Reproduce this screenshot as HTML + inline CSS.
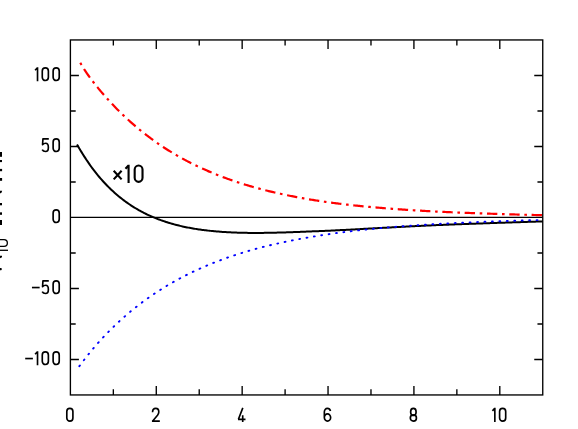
<!DOCTYPE html>
<html><head><meta charset="utf-8"><title>chart</title>
<style>html,body{margin:0;padding:0;background:#fff;font-family:"Liberation Sans",sans-serif;}
svg{display:block}</style></head>
<body>
<svg width="578" height="429" viewBox="0 0 578 429">
<rect x="0" y="0" width="578" height="429" fill="#fff"/>
<clipPath id="c"><rect x="70.4" y="39.95" width="472.35" height="355.0"/></clipPath>
<g clip-path="url(#c)" fill="none">
<line x1="70.4" y1="217.45" x2="542.75" y2="217.45" stroke="#000" stroke-width="1.2"/>
<path d="M77.00,144.51 L78.17,146.53 L79.34,148.51 L80.52,150.45 L81.69,152.37 L82.86,154.25 L84.03,156.09 L85.20,157.90 L86.37,159.68 L87.55,161.43 L88.72,163.14 L89.89,164.82 L91.06,166.46 L92.23,168.07 L93.41,169.64 L94.58,171.18 L95.75,172.69 L96.92,174.16 L98.09,175.59 L99.26,176.99 L100.44,178.36 L101.61,179.69 L102.78,181.00 L103.95,182.28 L105.12,183.53 L106.29,184.76 L107.47,185.97 L108.64,187.14 L109.81,188.30 L110.98,189.42 L112.15,190.53 L113.33,191.61 L114.50,192.67 L115.67,193.71 L116.84,194.72 L118.01,195.71 L119.18,196.68 L120.36,197.64 L121.53,198.57 L122.70,199.48 L123.87,200.37 L125.04,201.24 L126.22,202.09 L127.39,202.92 L128.56,203.74 L129.73,204.53 L130.90,205.31 L132.07,206.07 L133.25,206.82 L134.42,207.55 L135.59,208.26 L136.76,208.96 L137.93,209.64 L139.10,210.30 L140.28,210.95 L141.45,211.58 L142.62,212.20 L143.79,212.81 L144.96,213.40 L146.14,213.98 L147.31,214.54 L148.48,215.09 L149.65,215.63 L150.82,216.16 L151.99,216.67 L153.17,217.17 L154.34,217.66 L155.51,218.14 L156.68,218.60 L157.85,219.06 L159.03,219.50 L160.20,219.93 L161.37,220.36 L162.54,220.77 L163.71,221.17 L164.88,221.57 L166.06,221.95 L167.23,222.32 L168.40,222.69 L169.57,223.04 L170.74,223.39 L171.92,223.73 L173.09,224.06 L174.26,224.38 L175.43,224.69 L176.60,225.00 L177.77,225.30 L178.95,225.58 L180.12,225.87 L181.29,226.14 L182.46,226.40 L183.63,226.66 L184.80,226.92 L185.98,227.16 L187.15,227.40 L188.32,227.63 L189.49,227.85 L190.66,228.07 L191.84,228.28 L193.01,228.48 L194.18,228.68 L195.35,228.87 L196.52,229.06 L197.69,229.24 L198.87,229.41 L200.04,229.58 L201.21,229.74 L202.38,229.90 L203.55,230.05 L204.73,230.20 L205.90,230.34 L207.07,230.48 L208.24,230.62 L209.41,230.74 L210.58,230.87 L211.76,230.99 L212.93,231.10 L214.10,231.22 L215.27,231.32 L216.44,231.43 L217.62,231.52 L218.79,231.62 L219.96,231.71 L221.13,231.80 L222.30,231.88 L223.47,231.96 L224.65,232.04 L225.82,232.11 L226.99,232.18 L228.16,232.25 L229.33,232.31 L230.50,232.37 L231.68,232.42 L232.85,232.47 L234.02,232.52 L235.19,232.57 L236.36,232.61 L237.54,232.65 L238.71,232.69 L239.88,232.73 L241.05,232.76 L242.22,232.79 L243.39,232.81 L244.57,232.84 L245.74,232.86 L246.91,232.87 L248.08,232.89 L249.25,232.90 L250.43,232.91 L251.60,232.92 L252.77,232.92 L253.94,232.93 L255.11,232.93 L256.28,232.93 L257.46,232.92 L258.63,232.92 L259.80,232.91 L260.97,232.90 L262.14,232.89 L263.31,232.88 L264.49,232.86 L265.66,232.85 L266.83,232.83 L268.00,232.81 L269.17,232.79 L270.35,232.77 L271.52,232.75 L272.69,232.72 L273.86,232.70 L275.03,232.67 L276.20,232.64 L277.38,232.62 L278.55,232.59 L279.72,232.55 L280.89,232.52 L282.06,232.49 L283.24,232.45 L284.41,232.42 L285.58,232.38 L286.75,232.34 L287.92,232.31 L289.09,232.27 L290.27,232.23 L291.44,232.19 L292.61,232.14 L293.78,232.10 L294.95,232.06 L296.13,232.01 L297.30,231.97 L298.47,231.92 L299.64,231.88 L300.81,231.83 L301.98,231.78 L303.16,231.74 L304.33,231.69 L305.50,231.64 L306.67,231.60 L307.84,231.55 L309.01,231.50 L310.19,231.46 L311.36,231.41 L312.53,231.36 L313.70,231.32 L314.87,231.27 L316.05,231.22 L317.22,231.17 L318.39,231.13 L319.56,231.08 L320.73,231.03 L321.90,230.98 L323.08,230.93 L324.25,230.88 L325.42,230.83 L326.59,230.78 L327.76,230.73 L328.94,230.68 L330.11,230.63 L331.28,230.57 L332.45,230.52 L333.62,230.47 L334.79,230.41 L335.97,230.35 L337.14,230.30 L338.31,230.24 L339.48,230.18 L340.65,230.12 L341.82,230.07 L343.00,230.01 L344.17,229.94 L345.34,229.88 L346.51,229.82 L347.68,229.76 L348.86,229.70 L350.03,229.64 L351.20,229.57 L352.37,229.51 L353.54,229.45 L354.71,229.38 L355.89,229.32 L357.06,229.25 L358.23,229.19 L359.40,229.13 L360.57,229.06 L361.75,229.00 L362.92,228.93 L364.09,228.87 L365.26,228.80 L366.43,228.73 L367.60,228.67 L368.78,228.60 L369.95,228.54 L371.12,228.47 L372.29,228.41 L373.46,228.34 L374.64,228.28 L375.81,228.21 L376.98,228.15 L378.15,228.08 L379.32,228.02 L380.49,227.96 L381.67,227.89 L382.84,227.83 L384.01,227.76 L385.18,227.70 L386.35,227.64 L387.52,227.57 L388.70,227.51 L389.87,227.45 L391.04,227.39 L392.21,227.33 L393.38,227.27 L394.56,227.20 L395.73,227.14 L396.90,227.08 L398.07,227.02 L399.24,226.96 L400.41,226.89 L401.59,226.83 L402.76,226.77 L403.93,226.71 L405.10,226.65 L406.27,226.59 L407.45,226.53 L408.62,226.47 L409.79,226.41 L410.96,226.35 L412.13,226.29 L413.30,226.23 L414.48,226.17 L415.65,226.11 L416.82,226.05 L417.99,225.99 L419.16,225.93 L420.34,225.88 L421.51,225.82 L422.68,225.76 L423.85,225.71 L425.02,225.65 L426.19,225.60 L427.37,225.54 L428.54,225.49 L429.71,225.43 L430.88,225.38 L432.05,225.33 L433.22,225.27 L434.40,225.22 L435.57,225.17 L436.74,225.12 L437.91,225.07 L439.08,225.02 L440.26,224.97 L441.43,224.92 L442.60,224.88 L443.77,224.83 L444.94,224.78 L446.11,224.73 L447.29,224.69 L448.46,224.64 L449.63,224.59 L450.80,224.55 L451.97,224.50 L453.15,224.46 L454.32,224.41 L455.49,224.36 L456.66,224.32 L457.83,224.27 L459.00,224.23 L460.18,224.19 L461.35,224.14 L462.52,224.10 L463.69,224.05 L464.86,224.01 L466.03,223.97 L467.21,223.92 L468.38,223.88 L469.55,223.84 L470.72,223.80 L471.89,223.75 L473.07,223.71 L474.24,223.67 L475.41,223.63 L476.58,223.59 L477.75,223.55 L478.92,223.51 L480.10,223.47 L481.27,223.42 L482.44,223.38 L483.61,223.34 L484.78,223.30 L485.96,223.26 L487.13,223.22 L488.30,223.18 L489.47,223.14 L490.64,223.10 L491.81,223.06 L492.99,223.02 L494.16,222.98 L495.33,222.94 L496.50,222.91 L497.67,222.87 L498.85,222.83 L500.02,222.79 L501.19,222.75 L502.36,222.71 L503.53,222.67 L504.70,222.63 L505.88,222.59 L507.05,222.55 L508.22,222.51 L509.39,222.48 L510.56,222.44 L511.73,222.40 L512.91,222.36 L514.08,222.32 L515.25,222.28 L516.42,222.25 L517.59,222.21 L518.77,222.17 L519.94,222.13 L521.11,222.10 L522.28,222.06 L523.45,222.02 L524.62,221.98 L525.80,221.95 L526.97,221.91 L528.14,221.87 L529.31,221.84 L530.48,221.80 L531.66,221.76 L532.83,221.73 L534.00,221.69 L535.17,221.66 L536.34,221.62 L537.51,221.58 L538.69,221.55 L539.86,221.51 L541.03,221.48 L542.20,221.44 L543.37,221.41 L544.55,221.37" stroke="#000" stroke-width="2.0"/>
<path d="M80.10,62.37 L81.26,64.45 L82.43,66.43 L83.59,68.32 L84.76,70.14 L85.92,71.89 L87.08,73.59 L88.25,75.25 L89.41,76.87 L90.58,78.46 L91.74,80.01 L92.90,81.54 L94.07,83.04 L95.23,84.52 L96.40,85.98 L97.56,87.41 L98.72,88.83 L99.89,90.23 L101.05,91.62 L102.22,92.98 L103.38,94.33 L104.54,95.67 L105.71,96.99 L106.87,98.29 L108.04,99.58 L109.20,100.86 L110.36,102.12 L111.53,103.37 L112.69,104.60 L113.86,105.82 L115.02,107.03 L116.18,108.22 L117.35,109.40 L118.51,110.57 L119.68,111.72 L120.84,112.87 L122.00,114.00 L123.17,115.11 L124.33,116.22 L125.50,117.31 L126.66,118.40 L127.82,119.47 L128.99,120.52 L130.15,121.57 L131.32,122.61 L132.48,123.63 L133.65,124.65 L134.81,125.65 L135.97,126.64 L137.14,127.62 L138.30,128.59 L139.47,129.55 L140.63,130.50 L141.79,131.44 L142.96,132.37 L144.12,133.29 L145.29,134.20 L146.45,135.10 L147.61,135.98 L148.78,136.86 L149.94,137.73 L151.11,138.60 L152.27,139.45 L153.43,140.29 L154.60,141.12 L155.76,141.95 L156.93,142.76 L158.09,143.57 L159.25,144.37 L160.42,145.16 L161.58,145.94 L162.75,146.71 L163.91,147.47 L165.07,148.23 L166.24,148.98 L167.40,149.71 L168.57,150.45 L169.73,151.17 L170.89,151.88 L172.06,152.59 L173.22,153.29 L174.39,153.99 L175.55,154.67 L176.71,155.35 L177.88,156.02 L179.04,156.68 L180.21,157.34 L181.37,157.99 L182.53,158.63 L183.70,159.26 L184.86,159.89 L186.03,160.51 L187.19,161.13 L188.35,161.73 L189.52,162.33 L190.68,162.93 L191.85,163.52 L193.01,164.10 L194.17,164.68 L195.34,165.24 L196.50,165.81 L197.67,166.37 L198.83,166.92 L199.99,167.46 L201.16,168.00 L202.32,168.53 L203.49,169.06 L204.65,169.58 L205.81,170.10 L206.98,170.61 L208.14,171.12 L209.31,171.62 L210.47,172.11 L211.63,172.60 L212.80,173.08 L213.96,173.56 L215.13,174.03 L216.29,174.50 L217.45,174.97 L218.62,175.42 L219.78,175.88 L220.95,176.32 L222.11,176.77 L223.27,177.21 L224.44,177.64 L225.60,178.07 L226.77,178.49 L227.93,178.91 L229.09,179.33 L230.26,179.74 L231.42,180.15 L232.59,180.55 L233.75,180.95 L234.91,181.34 L236.08,181.73 L237.24,182.11 L238.41,182.49 L239.57,182.87 L240.74,183.24 L241.90,183.61 L243.06,183.98 L244.23,184.34 L245.39,184.69 L246.56,185.05 L247.72,185.40 L248.88,185.74 L250.05,186.08 L251.21,186.42 L252.38,186.75 L253.54,187.08 L254.70,187.41 L255.87,187.73 L257.03,188.05 L258.20,188.37 L259.36,188.68 L260.52,188.99 L261.69,189.30 L262.85,189.60 L264.02,189.90 L265.18,190.20 L266.34,190.49 L267.51,190.78 L268.67,191.07 L269.84,191.35 L271.00,191.63 L272.16,191.91 L273.33,192.19 L274.49,192.46 L275.66,192.73 L276.82,192.99 L277.98,193.26 L279.15,193.52 L280.31,193.77 L281.48,194.03 L282.64,194.28 L283.80,194.53 L284.97,194.77 L286.13,195.02 L287.30,195.26 L288.46,195.50 L289.62,195.73 L290.79,195.97 L291.95,196.20 L293.12,196.43 L294.28,196.65 L295.44,196.88 L296.61,197.10 L297.77,197.32 L298.94,197.53 L300.10,197.75 L301.26,197.96 L302.43,198.17 L303.59,198.37 L304.76,198.58 L305.92,198.78 L307.08,198.98 L308.25,199.18 L309.41,199.38 L310.58,199.57 L311.74,199.76 L312.90,199.95 L314.07,200.14 L315.23,200.32 L316.40,200.51 L317.56,200.69 L318.72,200.87 L319.89,201.04 L321.05,201.22 L322.22,201.39 L323.38,201.56 L324.54,201.73 L325.71,201.90 L326.87,202.06 L328.04,202.22 L329.20,202.39 L330.36,202.54 L331.53,202.70 L332.69,202.86 L333.86,203.01 L335.02,203.16 L336.18,203.31 L337.35,203.46 L338.51,203.60 L339.68,203.75 L340.84,203.89 L342.01,204.03 L343.17,204.17 L344.33,204.30 L345.50,204.44 L346.66,204.57 L347.83,204.71 L348.99,204.84 L350.15,204.97 L351.32,205.09 L352.48,205.22 L353.65,205.35 L354.81,205.47 L355.97,205.59 L357.14,205.71 L358.30,205.83 L359.47,205.95 L360.63,206.07 L361.79,206.18 L362.96,206.30 L364.12,206.41 L365.29,206.52 L366.45,206.63 L367.61,206.74 L368.78,206.85 L369.94,206.95 L371.11,207.06 L372.27,207.16 L373.43,207.27 L374.60,207.37 L375.76,207.47 L376.93,207.57 L378.09,207.67 L379.25,207.77 L380.42,207.86 L381.58,207.96 L382.75,208.06 L383.91,208.15 L385.07,208.24 L386.24,208.34 L387.40,208.43 L388.57,208.52 L389.73,208.61 L390.89,208.70 L392.06,208.78 L393.22,208.87 L394.39,208.96 L395.55,209.04 L396.71,209.13 L397.88,209.21 L399.04,209.29 L400.21,209.38 L401.37,209.46 L402.53,209.54 L403.70,209.62 L404.86,209.70 L406.03,209.78 L407.19,209.86 L408.35,209.93 L409.52,210.01 L410.68,210.08 L411.85,210.16 L413.01,210.23 L414.17,210.30 L415.34,210.37 L416.50,210.45 L417.67,210.52 L418.83,210.58 L419.99,210.65 L421.16,210.72 L422.32,210.79 L423.49,210.86 L424.65,210.92 L425.81,210.99 L426.98,211.05 L428.14,211.11 L429.31,211.18 L430.47,211.24 L431.63,211.30 L432.80,211.36 L433.96,211.42 L435.13,211.48 L436.29,211.54 L437.45,211.60 L438.62,211.66 L439.78,211.71 L440.95,211.77 L442.11,211.83 L443.28,211.88 L444.44,211.94 L445.60,211.99 L446.77,212.05 L447.93,212.10 L449.10,212.15 L450.26,212.20 L451.42,212.25 L452.59,212.30 L453.75,212.36 L454.92,212.40 L456.08,212.45 L457.24,212.50 L458.41,212.55 L459.57,212.60 L460.74,212.65 L461.90,212.69 L463.06,212.74 L464.23,212.78 L465.39,212.83 L466.56,212.87 L467.72,212.92 L468.88,212.96 L470.05,213.01 L471.21,213.05 L472.38,213.09 L473.54,213.13 L474.70,213.18 L475.87,213.22 L477.03,213.26 L478.20,213.30 L479.36,213.34 L480.52,213.38 L481.69,213.42 L482.85,213.46 L484.02,213.50 L485.18,213.53 L486.34,213.57 L487.51,213.61 L488.67,213.65 L489.84,213.69 L491.00,213.73 L492.16,213.76 L493.33,213.80 L494.49,213.84 L495.66,213.88 L496.82,213.91 L497.98,213.95 L499.15,213.99 L500.31,214.02 L501.48,214.06 L502.64,214.09 L503.80,214.13 L504.97,214.17 L506.13,214.20 L507.30,214.24 L508.46,214.27 L509.62,214.31 L510.79,214.34 L511.95,214.38 L513.12,214.41 L514.28,214.44 L515.44,214.48 L516.61,214.51 L517.77,214.54 L518.94,214.58 L520.10,214.61 L521.26,214.64 L522.43,214.68 L523.59,214.71 L524.76,214.74 L525.92,214.77 L527.08,214.80 L528.25,214.84 L529.41,214.87 L530.58,214.90 L531.74,214.93 L532.90,214.96 L534.07,214.99 L535.23,215.02 L536.40,215.05 L537.56,215.08 L538.72,215.11 L539.89,215.14 L541.05,215.17 L542.22,215.20 L543.38,215.23 L544.55,215.26" stroke="#f00" stroke-width="2.2" stroke-dasharray="2.6 4.68 10.38 4.67" stroke-dashoffset="-0.4"/>
<path d="M78.80,366.95 L79.97,365.35 L81.13,363.78 L82.30,362.22 L83.47,360.68 L84.64,359.16 L85.80,357.66 L86.97,356.18 L88.14,354.72 L89.31,353.27 L90.47,351.84 L91.64,350.43 L92.81,349.04 L93.97,347.66 L95.14,346.30 L96.31,344.96 L97.48,343.63 L98.64,342.31 L99.81,341.01 L100.98,339.73 L102.15,338.46 L103.31,337.20 L104.48,335.96 L105.65,334.74 L106.81,333.52 L107.98,332.32 L109.15,331.13 L110.32,329.96 L111.48,328.80 L112.65,327.65 L113.82,326.51 L114.99,325.39 L116.15,324.28 L117.32,323.18 L118.49,322.09 L119.65,321.02 L120.82,319.95 L121.99,318.90 L123.16,317.86 L124.32,316.83 L125.49,315.81 L126.66,314.80 L127.83,313.80 L128.99,312.81 L130.16,311.84 L131.33,310.87 L132.49,309.91 L133.66,308.97 L134.83,308.03 L136.00,307.10 L137.16,306.18 L138.33,305.28 L139.50,304.38 L140.67,303.49 L141.83,302.61 L143.00,301.74 L144.17,300.88 L145.34,300.02 L146.50,299.18 L147.67,298.34 L148.84,297.52 L150.00,296.70 L151.17,295.89 L152.34,295.09 L153.51,294.30 L154.67,293.51 L155.84,292.74 L157.01,291.97 L158.18,291.21 L159.34,290.45 L160.51,289.71 L161.68,288.97 L162.84,288.24 L164.01,287.52 L165.18,286.81 L166.35,286.10 L167.51,285.40 L168.68,284.71 L169.85,284.02 L171.02,283.34 L172.18,282.67 L173.35,282.01 L174.52,281.35 L175.68,280.70 L176.85,280.06 L178.02,279.42 L179.19,278.79 L180.35,278.16 L181.52,277.54 L182.69,276.93 L183.86,276.33 L185.02,275.73 L186.19,275.14 L187.36,274.55 L188.52,273.97 L189.69,273.39 L190.86,272.82 L192.03,272.26 L193.19,271.70 L194.36,271.15 L195.53,270.61 L196.70,270.07 L197.86,269.53 L199.03,269.00 L200.20,268.48 L201.36,267.96 L202.53,267.45 L203.70,266.94 L204.87,266.43 L206.03,265.94 L207.20,265.44 L208.37,264.96 L209.54,264.48 L210.70,264.00 L211.87,263.53 L213.04,263.06 L214.20,262.59 L215.37,262.14 L216.54,261.68 L217.71,261.23 L218.87,260.79 L220.04,260.35 L221.21,259.92 L222.38,259.48 L223.54,259.06 L224.71,258.64 L225.88,258.22 L227.04,257.81 L228.21,257.40 L229.38,256.99 L230.55,256.59 L231.71,256.19 L232.88,255.80 L234.05,255.41 L235.22,255.03 L236.38,254.65 L237.55,254.27 L238.72,253.90 L239.88,253.53 L241.05,253.17 L242.22,252.81 L243.39,252.45 L244.55,252.10 L245.72,251.75 L246.89,251.40 L248.06,251.06 L249.22,250.72 L250.39,250.39 L251.56,250.06 L252.72,249.73 L253.89,249.41 L255.06,249.09 L256.23,248.77 L257.39,248.46 L258.56,248.15 L259.73,247.84 L260.90,247.54 L262.06,247.23 L263.23,246.94 L264.40,246.64 L265.56,246.35 L266.73,246.06 L267.90,245.78 L269.07,245.49 L270.23,245.21 L271.40,244.94 L272.57,244.66 L273.74,244.39 L274.90,244.12 L276.07,243.86 L277.24,243.59 L278.40,243.33 L279.57,243.08 L280.74,242.82 L281.91,242.57 L283.07,242.32 L284.24,242.07 L285.41,241.82 L286.58,241.58 L287.74,241.34 L288.91,241.10 L290.08,240.86 L291.25,240.63 L292.41,240.40 L293.58,240.16 L294.75,239.94 L295.91,239.71 L297.08,239.49 L298.25,239.26 L299.42,239.04 L300.58,238.83 L301.75,238.61 L302.92,238.40 L304.09,238.19 L305.25,237.98 L306.42,237.77 L307.59,237.56 L308.75,237.36 L309.92,237.16 L311.09,236.96 L312.26,236.76 L313.42,236.57 L314.59,236.38 L315.76,236.19 L316.93,236.00 L318.09,235.81 L319.26,235.62 L320.43,235.44 L321.59,235.26 L322.76,235.08 L323.93,234.90 L325.10,234.73 L326.26,234.55 L327.43,234.38 L328.60,234.21 L329.77,234.04 L330.93,233.87 L332.10,233.71 L333.27,233.54 L334.43,233.38 L335.60,233.22 L336.77,233.06 L337.94,232.90 L339.10,232.75 L340.27,232.59 L341.44,232.44 L342.61,232.29 L343.77,232.14 L344.94,231.99 L346.11,231.85 L347.27,231.70 L348.44,231.56 L349.61,231.42 L350.78,231.28 L351.94,231.14 L353.11,231.00 L354.28,230.86 L355.45,230.73 L356.61,230.60 L357.78,230.46 L358.95,230.33 L360.11,230.20 L361.28,230.07 L362.45,229.95 L363.62,229.82 L364.78,229.70 L365.95,229.57 L367.12,229.45 L368.29,229.33 L369.45,229.21 L370.62,229.09 L371.79,228.98 L372.95,228.86 L374.12,228.75 L375.29,228.63 L376.46,228.52 L377.62,228.41 L378.79,228.30 L379.96,228.19 L381.13,228.08 L382.29,227.98 L383.46,227.87 L384.63,227.77 L385.79,227.66 L386.96,227.56 L388.13,227.46 L389.30,227.36 L390.46,227.26 L391.63,227.16 L392.80,227.07 L393.97,226.97 L395.13,226.87 L396.30,226.78 L397.47,226.69 L398.63,226.59 L399.80,226.50 L400.97,226.41 L402.14,226.32 L403.30,226.23 L404.47,226.15 L405.64,226.06 L406.81,225.97 L407.97,225.89 L409.14,225.80 L410.31,225.72 L411.47,225.64 L412.64,225.55 L413.81,225.47 L414.98,225.39 L416.14,225.31 L417.31,225.23 L418.48,225.16 L419.65,225.08 L420.81,225.00 L421.98,224.93 L423.15,224.85 L424.32,224.78 L425.48,224.70 L426.65,224.63 L427.82,224.56 L428.98,224.49 L430.15,224.42 L431.32,224.35 L432.49,224.28 L433.65,224.21 L434.82,224.14 L435.99,224.07 L437.16,224.01 L438.32,223.94 L439.49,223.87 L440.66,223.81 L441.82,223.75 L442.99,223.68 L444.16,223.62 L445.33,223.56 L446.49,223.49 L447.66,223.43 L448.83,223.37 L450.00,223.31 L451.16,223.25 L452.33,223.20 L453.50,223.14 L454.66,223.08 L455.83,223.02 L457.00,222.97 L458.17,222.91 L459.33,222.86 L460.50,222.80 L461.67,222.75 L462.84,222.69 L464.00,222.64 L465.17,222.59 L466.34,222.53 L467.50,222.48 L468.67,222.43 L469.84,222.38 L471.01,222.33 L472.17,222.28 L473.34,222.23 L474.51,222.18 L475.68,222.14 L476.84,222.09 L478.01,222.04 L479.18,221.99 L480.34,221.95 L481.51,221.90 L482.68,221.86 L483.85,221.81 L485.01,221.77 L486.18,221.72 L487.35,221.68 L488.52,221.63 L489.68,221.59 L490.85,221.55 L492.02,221.50 L493.18,221.46 L494.35,221.42 L495.52,221.38 L496.69,221.34 L497.85,221.30 L499.02,221.26 L500.19,221.21 L501.36,221.17 L502.52,221.14 L503.69,221.10 L504.86,221.06 L506.02,221.02 L507.19,220.98 L508.36,220.94 L509.53,220.90 L510.69,220.87 L511.86,220.83 L513.03,220.79 L514.20,220.76 L515.36,220.72 L516.53,220.68 L517.70,220.65 L518.86,220.61 L520.03,220.58 L521.20,220.54 L522.37,220.51 L523.53,220.48 L524.70,220.44 L525.87,220.41 L527.04,220.37 L528.20,220.34 L529.37,220.31 L530.54,220.28 L531.70,220.24 L532.87,220.21 L534.04,220.18 L535.21,220.15 L536.37,220.12 L537.54,220.09 L538.71,220.06 L539.88,220.03 L541.04,220.00 L542.21,219.97 L543.38,219.94 L544.55,219.91" stroke="#00f" stroke-width="1.9" stroke-linecap="round" stroke-dasharray="0.9 6.55" stroke-dashoffset="-0.95"/>
</g>
<g stroke="#000" stroke-width="1.35" fill="none">
<rect x="70.4" y="39.95" width="472.35" height="355.0"/>
<path d="M113.34,394.95 v-5.6 M113.34,39.95 v5.6 M156.28,394.95 v-9.0 M156.28,39.95 v9.0 M199.22,394.95 v-5.6 M199.22,39.95 v5.6 M242.16,394.95 v-9.0 M242.16,39.95 v9.0 M285.10,394.95 v-5.6 M285.10,39.95 v5.6 M328.04,394.95 v-9.0 M328.04,39.95 v9.0 M370.98,394.95 v-5.6 M370.98,39.95 v5.6 M413.92,394.95 v-9.0 M413.92,39.95 v9.0 M456.86,394.95 v-5.6 M456.86,39.95 v5.6 M499.80,394.95 v-9.0 M499.80,39.95 v9.0 M70.4,359.45 h8.5 M542.75,359.45 h-8.5 M70.4,323.95 h5.3 M542.75,323.95 h-5.3 M70.4,288.45 h8.5 M542.75,288.45 h-8.5 M70.4,252.95 h5.3 M542.75,252.95 h-5.3 M70.4,181.95 h5.3 M542.75,181.95 h-5.3 M70.4,146.45 h8.5 M542.75,146.45 h-8.5 M70.4,110.95 h5.3 M542.75,110.95 h-5.3 M70.4,75.45 h8.5 M542.75,75.45 h-8.5"/>
</g>
<g stroke="#000" stroke-width="1.65" fill="none" stroke-linejoin="round">
<path transform="translate(34.65,67.00) scale(1.0)" d="M0.45,3.3 L2.775,0.75 M2.875,0.15 V14.3"/>
<path transform="translate(41.45,67.00) scale(1.0)" d="M0.825,3.9749999999999996 A3.05,3.15 0 0 1 6.925,3.9749999999999996 V10.325000000000001 A3.05,3.15 0 0 1 0.825,10.325000000000001 Z"/>
<path transform="translate(52.30,67.00) scale(1.0)" d="M0.825,3.9749999999999996 A3.05,3.15 0 0 1 6.925,3.9749999999999996 V10.325000000000001 A3.05,3.15 0 0 1 0.825,10.325000000000001 Z"/>
<path transform="translate(41.50,138.00) scale(1.0)" d="M7.3,0.825 H1.45 L1.05,6.6 C2.0,5.6 3.0,5.25 4.1,5.25 C6.2,5.25 6.875,6.9 6.875,9.4 C6.875,12.1 6.1,13.475000000000001 4.0,13.475000000000001 C2.4,13.475000000000001 1.3,12.9 0.7,11.7"/>
<path transform="translate(52.30,138.00) scale(1.0)" d="M0.825,3.9749999999999996 A3.05,3.15 0 0 1 6.925,3.9749999999999996 V10.325000000000001 A3.05,3.15 0 0 1 0.825,10.325000000000001 Z"/>
<path transform="translate(52.30,209.00) scale(1.0)" d="M0.825,3.9749999999999996 A3.05,3.15 0 0 1 6.925,3.9749999999999996 V10.325000000000001 A3.05,3.15 0 0 1 0.825,10.325000000000001 Z"/>
<path transform="translate(31.95,280.00) scale(1.0)" d="M0,7.55 H7.7"/>
<path transform="translate(41.50,280.00) scale(1.0)" d="M7.3,0.825 H1.45 L1.05,6.6 C2.0,5.6 3.0,5.25 4.1,5.25 C6.2,5.25 6.875,6.9 6.875,9.4 C6.875,12.1 6.1,13.475000000000001 4.0,13.475000000000001 C2.4,13.475000000000001 1.3,12.9 0.7,11.7"/>
<path transform="translate(52.30,280.00) scale(1.0)" d="M0.825,3.9749999999999996 A3.05,3.15 0 0 1 6.925,3.9749999999999996 V10.325000000000001 A3.05,3.15 0 0 1 0.825,10.325000000000001 Z"/>
<path transform="translate(25.20,351.00) scale(1.0)" d="M0,7.55 H7.7"/>
<path transform="translate(34.65,351.00) scale(1.0)" d="M0.45,3.3 L2.775,0.75 M2.875,0.15 V14.3"/>
<path transform="translate(41.45,351.00) scale(1.0)" d="M0.825,3.9749999999999996 A3.05,3.15 0 0 1 6.925,3.9749999999999996 V10.325000000000001 A3.05,3.15 0 0 1 0.825,10.325000000000001 Z"/>
<path transform="translate(52.30,351.00) scale(1.0)" d="M0.825,3.9749999999999996 A3.05,3.15 0 0 1 6.925,3.9749999999999996 V10.325000000000001 A3.05,3.15 0 0 1 0.825,10.325000000000001 Z"/>
<path transform="translate(65.98,407.60) scale(1.0)" d="M0.825,3.9749999999999996 A3.05,3.15 0 0 1 6.925,3.9749999999999996 V10.325000000000001 A3.05,3.15 0 0 1 0.825,10.325000000000001 Z"/>
<path transform="translate(151.63,407.60) scale(1.0)" d="M0.9249999999999999,4.6 C0.9249999999999999,2.2 2.4999999999999996,0.825 4.1,0.825 C6.0,0.825 7.174999999999999,2.2 7.174999999999999,4.3 C7.174999999999999,5.6 6.6,6.6 5.8999999999999995,7.6 L1.075,13.375000000000002 M0.3,13.475000000000001 H8.2"/>
<path transform="translate(237.71,407.60) scale(1.0)" d="M5.1,0.25 L0.7,11.65 M0.3,11.7 H7.8 M5.0,7.6 V14.3"/>
<path transform="translate(323.51,407.60) scale(1.0)" d="M7.0,3.4 C6.45,1.6 5.375,0.825 3.975,0.825 C1.975,0.825 0.825,2.3 0.825,4.4 V9.875000000000002 A3.1500000000000004,3.6 0 0 0 7.125,9.875000000000002 A3.1500000000000004,3.6 0 0 0 0.825,9.875000000000002"/>
<path transform="translate(409.47,407.60) scale(1.0)" d="M3.9,0.825 A2.75,3.45 0 0 1 3.9,7.7250000000000005 A2.75,3.45 0 0 1 3.9,0.825 Z M3.9,7.275000000000001 A3.075,3.1 0 0 1 3.9,13.475000000000001 A3.075,3.1 0 0 1 3.9,7.275000000000001 Z"/>
<path transform="translate(491.97,407.60) scale(1.0)" d="M0.45,3.3 L2.775,0.75 M2.875,0.15 V14.3"/>
<path transform="translate(498.77,407.60) scale(1.0)" d="M0.825,3.9749999999999996 A3.05,3.15 0 0 1 6.925,3.9749999999999996 V10.325000000000001 A3.05,3.15 0 0 1 0.825,10.325000000000001 Z"/>
<path transform="translate(113.00,164.50) scale(1.285)" d="M0.55,4.85 L6.7,11.6 M6.7,4.85 L0.55,11.6"/>
<path transform="translate(124.89,164.50) scale(1.285)" d="M0.45,3.3 L2.775,0.75 M2.875,0.15 V14.3"/>
<path transform="translate(133.62,164.50) scale(1.285)" d="M0.825,3.9749999999999996 A3.05,3.15 0 0 1 6.925,3.9749999999999996 V10.325000000000001 A3.05,3.15 0 0 1 0.825,10.325000000000001 Z"/>
</g>
<g fill="#000">
<rect x="0" y="152.0" width="2.0" height="4.80"/>
<rect x="0" y="160.0" width="2.0" height="2.10"/>
<rect x="0" y="168.9" width="2.1" height="2.30"/>
<rect x="0" y="178.0" width="2.1" height="2.80"/>
<rect x="0" y="203.0" width="2.0" height="2.30"/>
<rect x="0" y="212.35" width="2.0" height="2.45"/>
<rect x="0" y="220.0" width="2.0" height="5.00"/>
<path d="M0,190.75 H2.1 L1.7,192.4 L0,193.4 Z"/>
<path d="M0,255.7 H2.0 V257.3 L0,258.2 Z"/>
<path d="M0,267.9 H1.2 L2.0,269.0 L1.2,270.3 H0 Z"/>
</g>
<g fill="none" stroke="#000" stroke-width="1.3">
<path d="M-1,239.65 H4.0 A3.35,3.35 0 0 1 4.0,246.35 H-1"/>
<path d="M-1,250.3 H8"/>
</g>
</svg>
</body></html>
